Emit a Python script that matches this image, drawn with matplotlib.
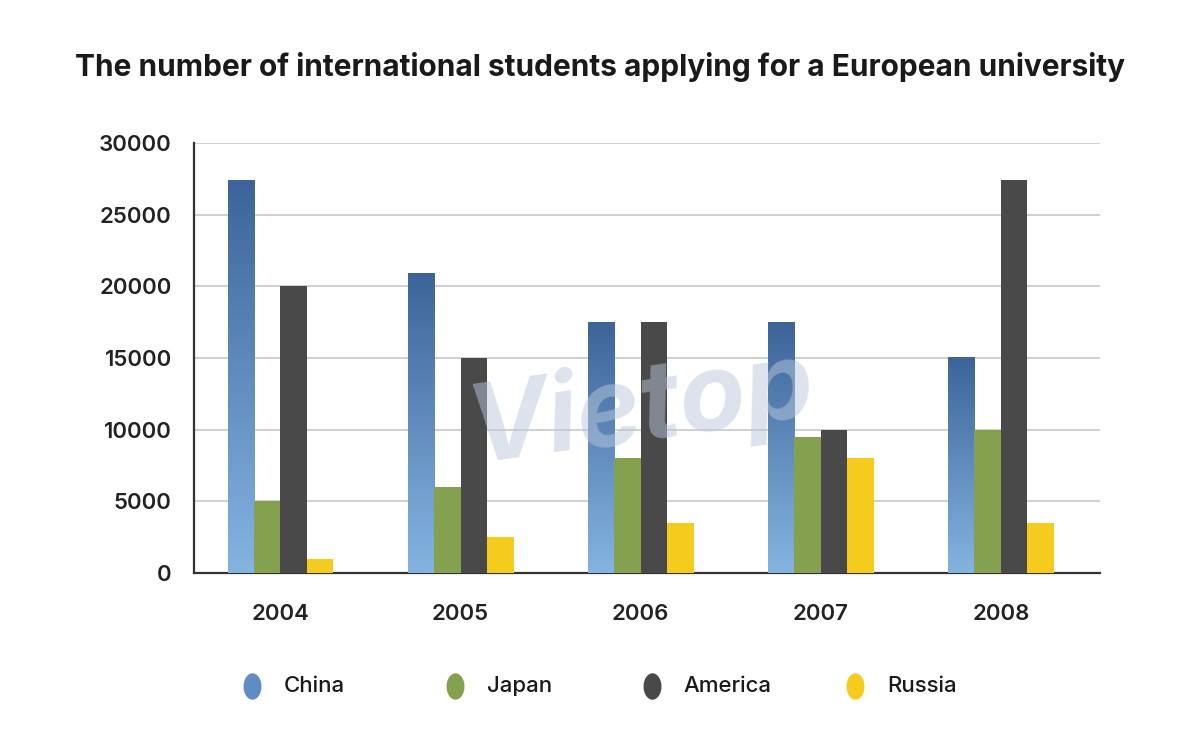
import numpy as np
import matplotlib
matplotlib.use('Agg')
import matplotlib.pyplot as plt
from matplotlib.lines import Line2D
from matplotlib.path import Path
from matplotlib.transforms import Affine2D
from matplotlib.colors import LinearSegmentedColormap

years = ['2004', '2005', '2006', '2007', '2008']
china = [27400, 20900, 17500, 17500, 15000]
japan = [5000, 6000, 8000, 9500, 10000]
america = [20000, 15000, 17500, 10000, 27400]
russia = [1000, 2500, 3500, 8000, 3500]
series_names = ['China', 'Japan', 'America', 'Russia']

plt.rcParams['font.family'] = ['Inter', 'DejaVu Sans']

blue_top = '#3d6499'
blue_bottom = '#85b4e1'
green = '#84a150'
dark = '#494949'
yellow = '#f5cb1d'
china_cmap = LinearSegmentedColormap.from_list('china', [blue_bottom, blue_top])

fig = plt.figure(figsize=(12, 7.47), dpi=100)
ax = fig.add_axes([0.1617, 0.2329, 0.755, 0.5757])

x = np.arange(len(years))
w = 0.147

# China bars with vertical gradient
grad = np.linspace(0, 1, 256).reshape(-1, 1)
for xi, val in zip(x, china):
    ax.imshow(grad, extent=[xi - 2 * w, xi - w, 0, val], origin='lower',
              aspect='auto', cmap=china_cmap, zorder=3)
ax.bar(x - 0.5 * w, japan, w, color=green, zorder=3)
ax.bar(x + 0.5 * w, america, w, color=dark, zorder=3)
ax.bar(x + 1.5 * w, russia, w, color=yellow, zorder=3)

ax.set_xlim(-0.48, 4.55)
ax.set_ylim(0, 30000)
ax.set_yticks(np.arange(0, 30001, 5000))
ax.set_yticklabels([str(v) for v in range(0, 30001, 5000)], fontsize=16,
                   fontweight='semibold', color='#222222')
ax.set_xticks(x)
ax.set_xticklabels(years, fontsize=16, fontweight='semibold', color='#222222')
ax.tick_params(axis='both', length=0)
ax.tick_params(axis='y', pad=16)
ax.tick_params(axis='x', pad=22)
ax.grid(axis='y', color='#c8c8c8', linewidth=1.2, zorder=0)
for s in ['top', 'right']:
    ax.spines[s].set_visible(False)
for s in ['left', 'bottom']:
    ax.spines[s].set_color('#333333')
    ax.spines[s].set_linewidth(1.6)

# watermark
ax.text(2.0, 11500, 'Vietop', fontsize=78, fontstyle='italic', fontweight='bold',
        color='#b9c7da', alpha=0.5, ha='center', va='center', rotation=8, zorder=4)

fig.suptitle('The number of international students applying for a European university',
             x=0.5, y=0.93, fontsize=21.5, fontweight='bold', color='#1a1a1a')

# legend, placed entry by entry
ellipse = Path.unit_circle().transformed(Affine2D().scale(0.68, 1.0))
legend_colors = ['#5f8cc2', green, dark, yellow]
legend_x = [0.21, 0.379, 0.543, 0.7125]
for lx, c, n in zip(legend_x, legend_colors, series_names):
    fig.add_artist(Line2D([lx], [0.0817], transform=fig.transFigure, linestyle='none',
                          marker=ellipse, markersize=19, markerfacecolor=c,
                          markeredgecolor='none'))
    fig.text(lx + 0.0265, 0.0817, n, fontsize=16, fontweight='medium',
             color='#1a1a1a', va='center', ha='left')

plt.savefig('out.png', dpi=100)
